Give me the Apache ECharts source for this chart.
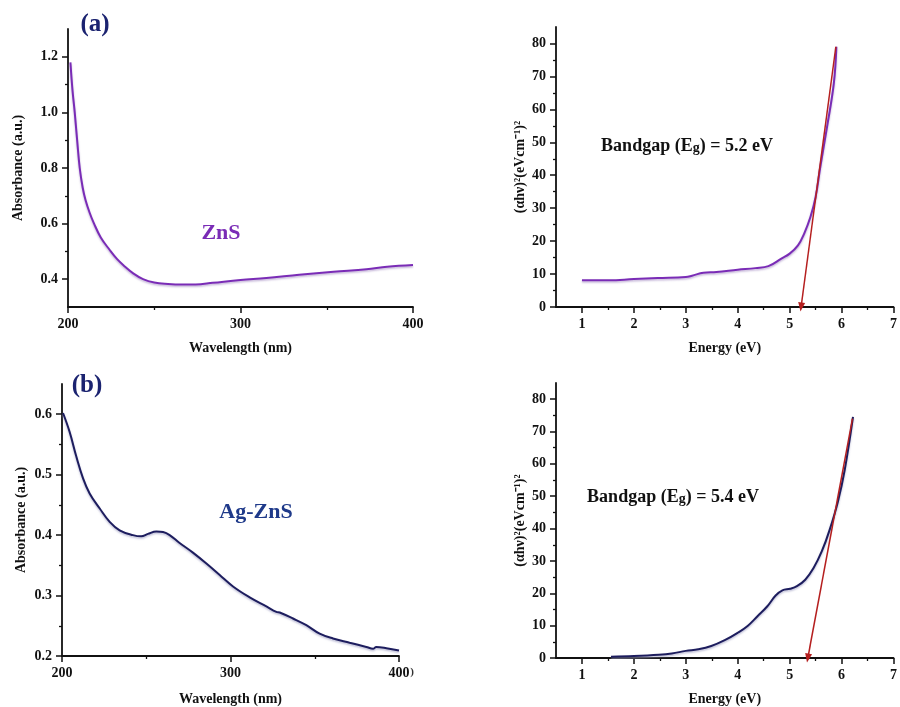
<!DOCTYPE html>
<html>
<head>
<meta charset="utf-8">
<script src="https://cdn.jsdelivr.net/npm/echarts@6/dist/echarts.min.js"></script>
<style>html,body{margin:0;padding:0;background:#fff;}#c{width:900px;height:707px;}</style>
</head>
<body>
<div id="c"></div>
<script>
// ---- Data ----
// (a) ZnS absorbance
const znsWavelength = [201.4, 202.6, 203.9, 205.3, 206.8, 208.5, 210.2, 212.5, 215.1, 219, 224.2, 228.5, 232.9, 238, 243.5, 250, 258, 266, 274, 284, 300, 315, 334, 354, 373, 385, 400];
const znsAbsorbance = [1.18, 1.08, 1.0, 0.9, 0.8, 0.73, 0.684, 0.64, 0.6, 0.55, 0.505, 0.472, 0.446, 0.42, 0.40, 0.388, 0.383, 0.381, 0.381, 0.387, 0.397, 0.404, 0.416, 0.427, 0.436, 0.445, 0.451];
// (a) ZnS Tauc plot
const znsEnergy = [1.0, 1.52, 2.0, 2.46, 3.0, 3.12, 3.34, 3.59, 4.0, 4.34, 4.59, 4.84, 5.0, 5.16, 5.28, 5.40, 5.5, 5.59, 5.72, 5.85, 5.9];
const znsTauc = [8.1, 8.1, 8.5, 8.8, 9.1, 9.5, 10.4, 10.6, 11.3, 11.8, 12.4, 14.7, 16.2, 18.7, 22.3, 27.3, 33.4, 42.5, 54.7, 67.8, 79];
const znsArrow = [[5.89, 79], [5.22, 0]];
// (b) Ag-ZnS absorbance
const agWavelength = [200.6, 204.5, 208.5, 212.5, 216.4, 222.4, 228.3, 234.2, 242.1, 247, 251, 256, 260, 263.9, 269.8, 277.7, 285.7, 293.6, 301.5, 311.4, 321.3, 327.2, 329.2, 337.1, 345, 352.9, 360.8, 370.7, 380.6, 384.6, 386.5, 392.5, 400];
const agAbsorbance = [0.602, 0.571, 0.53, 0.494, 0.469, 0.444, 0.422, 0.408, 0.400, 0.398, 0.402, 0.406, 0.405, 0.400, 0.387, 0.371, 0.353, 0.334, 0.315, 0.297, 0.282, 0.273, 0.272, 0.262, 0.251, 0.237, 0.229, 0.222, 0.215, 0.212, 0.215, 0.213, 0.209];
// (b) Ag-ZnS Tauc plot
const agEnergy = [1.56, 2.0, 2.48, 2.73, 3.0, 3.24, 3.49, 3.75, 4.0, 4.19, 4.38, 4.57, 4.73, 4.86, 5.01, 5.14, 5.30, 5.46, 5.62, 5.77, 5.93, 6.06, 6.22];
const agTauc = [0.4, 0.6, 1.0, 1.4, 2.2, 2.7, 3.7, 5.5, 7.8, 9.9, 12.9, 16.0, 19.3, 20.9, 21.4, 22.2, 24.2, 27.8, 33.0, 39.6, 48.4, 58.1, 74.5];
const agArrow = [[6.21, 74], [5.35, 0]];

// tick values
const wlMajor = [200, 300, 400];
const wlMinor = [250, 350];
const absAMajor = [0.4, 0.6, 0.8, 1.0, 1.2];
const absAMinor = [0.5, 0.7, 0.9, 1.1];
const absBMajor = [0.2, 0.3, 0.4, 0.5, 0.6];
const absBMinor = [0.25, 0.35, 0.45, 0.55];
const eMajor = [1, 2, 3, 4, 5, 6, 7];
const eMinor = [1.5, 2.5, 3.5, 4.5, 5.5, 6.5];
const taucMajor = [0, 10, 20, 30, 40, 50, 60, 70, 80];
const taucMinor = [5, 15, 25, 35, 45, 55, 65, 75];

// ---- Chart ----
const F = '"Liberation Serif", "Times New Roman", serif';
const AX = '#111';
const xAxes = [], yAxes = [];
function mainAxis(gi, pos, min, max, major, fmt, name, nameGap, size) {
  return {
    type: 'value', gridIndex: gi, position: pos, min: min, max: max,
    axisLine: {show: true, onZero: false, lineStyle: {color: AX, width: 1.8}},
    axisTick: {show: true, customValues: major, length: 6, lineStyle: {color: AX, width: 1.5}},
    axisLabel: {show: true, customValues: major, formatter: fmt, color: '#111', fontFamily: F, fontWeight: 'bold', fontSize: size, margin: 10},
    splitLine: {show: false},
    name: name, nameLocation: 'middle', nameGap: nameGap,
    nameTextStyle: {color: '#111', fontFamily: F, fontWeight: 'bold', fontSize: 14}
  };
}
function minorAxis(gi, pos, min, max, minor) {
  return {
    type: 'value', gridIndex: gi, position: pos, min: min, max: max,
    axisLine: {show: false, onZero: false},
    axisTick: {show: true, customValues: minor, length: 3, lineStyle: {color: AX, width: 1.3}},
    axisLabel: {show: false}, splitLine: {show: false}
  };
}
const fInt = v => String(Math.round(v));
const f1 = v => v.toFixed(1);

const grids = [
  {left: 68, top: 29, width: 345, height: 278},
  {left: 556, top: 27, width: 346, height: 280},
  {left: 62, top: 384, width: 337, height: 272},
  {left: 556, top: 383, width: 342, height: 276}
];
// grid 0
xAxes.push(mainAxis(0, 'bottom', 200, 400, wlMajor, fInt, 'Wavelength (nm)', 34, 14));
xAxes.push(minorAxis(0, 'bottom', 200, 400, wlMinor));
yAxes.push(mainAxis(0, 'left', 0.3, 1.3, absAMajor, f1, 'Absorbance (a.u.)', 43, 14));
yAxes.push(minorAxis(0, 'left', 0.3, 1.3, absAMinor));
// grid 1
xAxes.push(mainAxis(1, 'bottom', 0.5, 7, eMajor, fInt, 'Energy (eV)', 34, 14));
xAxes.push(minorAxis(1, 'bottom', 0.5, 7, eMinor));
yAxes.push(mainAxis(1, 'left', 0, 85, taucMajor, fInt, '(αhν)²(eVcm⁻¹)²', 29, 14));
yAxes.push(minorAxis(1, 'left', 0, 85, taucMinor));
// grid 2
xAxes.push(mainAxis(2, 'bottom', 200, 400, wlMajor, fInt, 'Wavelength (nm)', 36, 14));
xAxes.push(minorAxis(2, 'bottom', 200, 400, wlMinor));
yAxes.push(mainAxis(2, 'left', 0.2, 0.65, absBMajor, f1, 'Absorbance (a.u.)', 34, 14));
yAxes.push(minorAxis(2, 'left', 0.2, 0.65, absBMinor));
// grid 3
xAxes.push(mainAxis(3, 'bottom', 0.5, 7, eMajor, fInt, 'Energy (eV)', 34, 14));
xAxes.push(minorAxis(3, 'bottom', 0.5, 7, eMinor));
yAxes.push(mainAxis(3, 'left', 0, 85, taucMajor, fInt, '(αhν)²(eVcm⁻¹)²', 29, 14));
yAxes.push(minorAxis(3, 'left', 0, 85, taucMinor));

const zip = (a, b) => a.map((v, i) => [v, b[i]]);
const PURPLE = '#7a2cb6';
const NAVY = '#1d1d5e';
const RED = '#b51f1f';
function lineSeries(gi, data, color, halo, arrow) {
  const s = {
    type: 'line', xAxisIndex: gi * 2, yAxisIndex: gi * 2, data: data,
    smooth: 0.4, showSymbol: false, symbol: 'none', silent: true, z: 3,
    lineStyle: {color: color, width: 2, shadowColor: halo, shadowBlur: 2, shadowOffsetY: 1.5}
  };
  if (arrow) {
    s.markLine = {
      silent: true, symbol: ['none', 'triangle'], symbolSize: [7, 9],
      label: {show: false},
      lineStyle: {color: RED, width: 1.5, type: 'solid'},
      data: [[{coord: arrow[0]}, {coord: arrow[1]}]]
    };
  }
  return s;
}
const series = [
  lineSeries(0, zip(znsWavelength, znsAbsorbance), PURPLE, 'rgba(180,160,205,0.8)'),
  lineSeries(1, zip(znsEnergy, znsTauc), PURPLE, 'rgba(180,160,205,0.8)', znsArrow),
  lineSeries(2, zip(agWavelength, agAbsorbance), NAVY, 'rgba(160,160,195,0.7)'),
  lineSeries(3, zip(agEnergy, agTauc), NAVY, 'rgba(160,160,195,0.7)', agArrow)
];

function txt(x, y, text, size, color, rich) {
  const st = {text: text, x: x, y: y, fill: color, font: 'bold ' + size + 'px ' + F,
    textAlign: 'center', textVerticalAlign: 'middle', align: 'center', verticalAlign: 'middle'};
  if (rich) st.rich = rich;
  return {type: 'text', style: st, z: 10};
}
const bgRich = {
  b: {fontFamily: F, fontWeight: 'bold', fontSize: 18, fill: '#111', color: '#111'},
  s: {fontFamily: F, fontWeight: 'bold', fontSize: 14, fill: '#111', color: '#111', padding: [4, 0, 0, 0]}
};
const graphic = [
  txt(95, 25, '(a)', 25, '#1b2370'),
  txt(87, 386, '(b)', 25, '#1b2370'),
  txt(221, 233, 'ZnS', 22, '#7a2cb6'),
  txt(256, 512, 'Ag-ZnS', 22, '#1f3a8a'),
  txt(687, 146, '{b|Bandgap (E}{s|g}{b|) = 5.2 eV}', 18, '#111', bgRich),
  txt(673, 497, '{b|Bandgap (E}{s|g}{b|) = 5.4 eV}', 18, '#111', bgRich),
  txt(412, 672, ')', 11, '#333')
];

const chart = echarts.init(document.getElementById('c'), null, {renderer: 'canvas'});
chart.setOption({
  backgroundColor: '#fff',
  animation: false,
  grid: grids,
  xAxis: xAxes,
  yAxis: yAxes,
  series: series,
  graphic: graphic
});
</script>
</body>
</html>
